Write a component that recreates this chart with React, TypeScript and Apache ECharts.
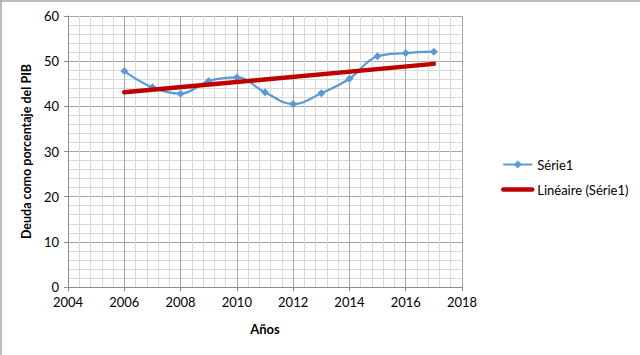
import React, { useEffect, useRef } from "react";
import * as echarts from "echarts";

const years = [2006, 2007, 2008, 2009, 2010, 2011, 2012, 2013, 2014, 2015, 2016, 2017];
const debt = [47.8, 44.2, 42.8, 45.6, 46.4, 43.1, 40.5, 42.9, 46.1, 51.1, 51.8, 52.1];
const trendYears = [2006, 2017];
const trendValues = [43.1, 49.4];
const seriesName = "Série1";
const trendName = "Linéaire (Série1)";
const xTitle = "Años";
const yTitle = "Deuda como porcentaje del PIB";

const FONT = "Lato";

export default function App() {
  const ref = useRef<HTMLDivElement>(null);
  useEffect(() => {
    document.body.style.margin = "0";
    const chart = echarts.init(ref.current!, null, { renderer: "svg" });
    chart.setOption({
      animation: false,
      backgroundColor: "#ffffff",
      textStyle: { fontFamily: FONT },
      grid: { left: 68, right: 178, top: 16, bottom: 68 },
      legend: {
        orient: "vertical",
        left: 496,
        top: 153,
        itemWidth: 29,
        itemHeight: 10,
        itemGap: 12,
        textStyle: { fontFamily: FONT, fontSize: 13, color: "#000" },
        data: [
          { name: seriesName },
          { name: trendName, itemStyle: { opacity: 0 }, lineStyle: { width: 4.5, cap: "round" } },
        ],
      },
      xAxis: {
        type: "value",
        min: 2004,
        max: 2018,
        interval: 2,
        name: xTitle,
        nameLocation: "middle",
        nameGap: 35,
        nameTextStyle: { fontFamily: FONT, fontWeight: "bold", fontSize: 13, color: "#000" },
        axisLine: { show: true, lineStyle: { color: "#8c8c8c" } },
        axisTick: { show: true, length: 4, lineStyle: { color: "#8c8c8c" } },
        axisLabel: {
          fontFamily: FONT,
          fontSize: 13,
          color: "#000",
          margin: 8,
          formatter: (v: number) => String(v),
        },
        splitLine: { show: true, lineStyle: { color: "#a6a6a6", width: 1 } },
        minorTick: { show: false, splitNumber: 5 },
        minorSplitLine: { show: true, lineStyle: { color: "#d9d9d9", width: 1 } },
      },
      yAxis: {
        type: "value",
        min: 0,
        max: 60,
        interval: 10,
        name: yTitle,
        nameLocation: "middle",
        nameGap: 33,
        nameTextStyle: { fontFamily: FONT, fontWeight: "bold", fontSize: 12.5, color: "#000" },
        axisLine: { show: true, lineStyle: { color: "#8c8c8c" } },
        axisTick: { show: true, length: 4, lineStyle: { color: "#8c8c8c" } },
        axisLabel: { fontFamily: FONT, fontSize: 13, color: "#000", margin: 9 },
        splitLine: { show: true, lineStyle: { color: "#a6a6a6", width: 1 } },
        minorTick: { show: false, splitNumber: 5 },
        minorSplitLine: { show: true, lineStyle: { color: "#d9d9d9", width: 1 } },
      },
      series: [
        {
          name: seriesName,
          type: "line",
          data: years.map((y, i) => [y, debt[i]]),
          smooth: 0.4,
          symbol: "diamond",
          symbolSize: 8,
          lineStyle: { color: "#5b9bd5", width: 2.25 },
          itemStyle: { color: "#5b9bd5" },
          z: 3,
        },
        {
          name: trendName,
          type: "line",
          data: trendYears.map((y, i) => [y, trendValues[i]]),
          symbol: "none",
          lineStyle: { color: "#c00000", width: 4.5, cap: "round" },
          itemStyle: { color: "#c00000" },
          z: 4,
        },
      ],
      graphic: [
        { type: "line", shape: { x1: 0, y1: 1, x2: 640, y2: 1 }, style: { stroke: "#a6a6a6", lineWidth: 1.5 } },
        { type: "line", shape: { x1: 1, y1: 0, x2: 1, y2: 355 }, style: { stroke: "#a6a6a6", lineWidth: 1.5 } },
      ],
    });
    return () => chart.dispose();
  }, []);
  return <div ref={ref} style={{ width: 640, height: 355 }} />;
}
